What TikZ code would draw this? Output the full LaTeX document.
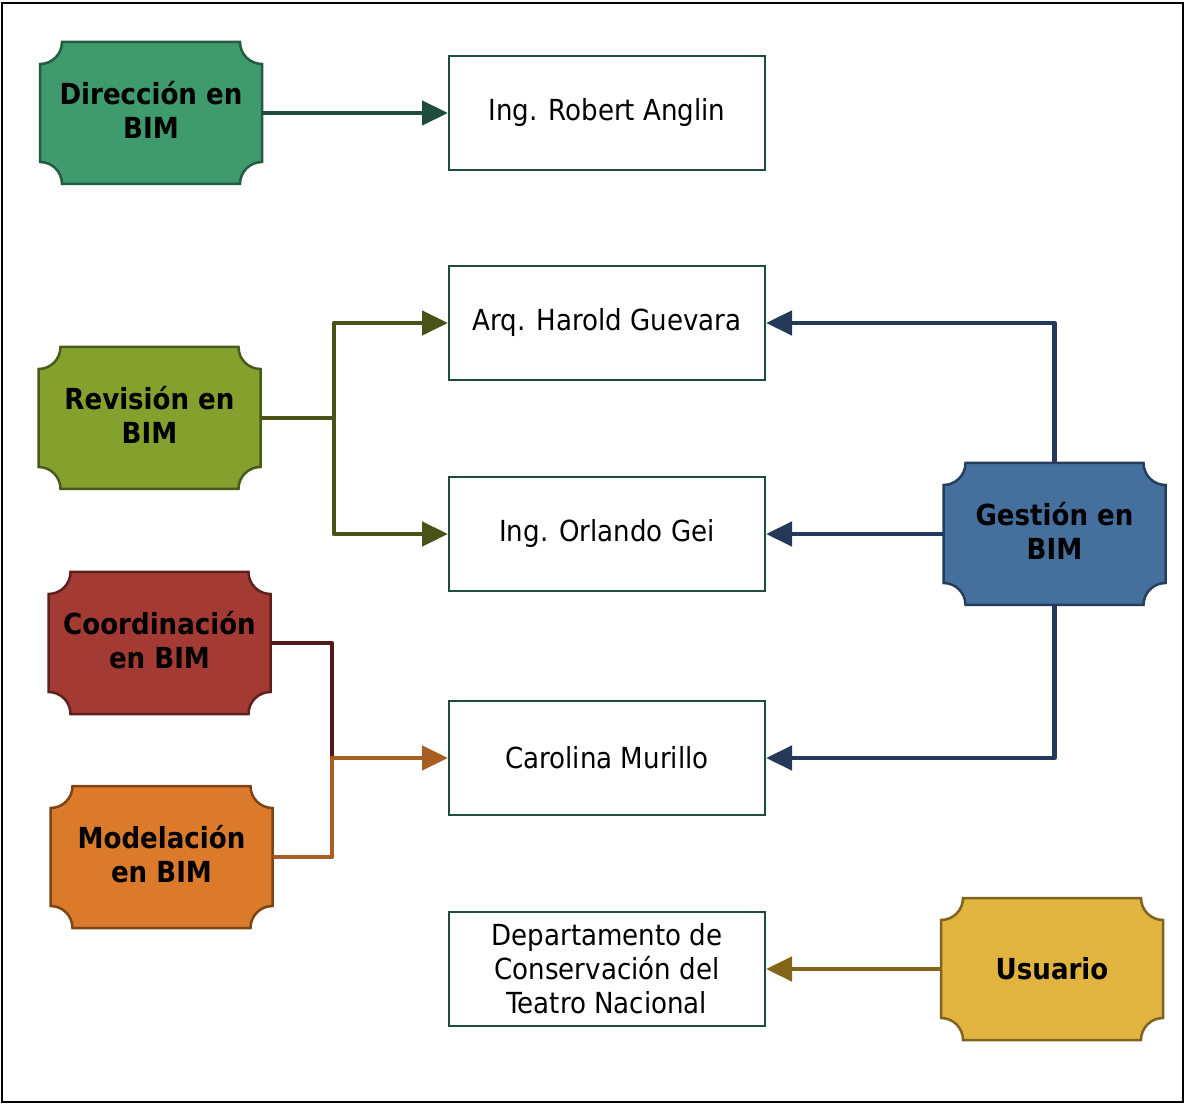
\documentclass[tikz,border=0pt]{standalone}
\usepackage{fontspec}
\setmainfont{DejaVu Sans Condensed}[BoldFont={DejaVu Sans Condensed Bold}]
\usetikzlibrary{arrows.meta,calc}
\definecolor{boxc}{HTML}{1E4D3C}
\definecolor{dirf}{HTML}{3F9A6E}\definecolor{dird}{HTML}{245C41}
\definecolor{revf}{HTML}{85A02D}\definecolor{revd}{HTML}{4A5A1C}
\definecolor{coof}{HTML}{A33B34}\definecolor{cood}{HTML}{5C211D}
\definecolor{modf}{HTML}{DC7A2B}\definecolor{modd}{HTML}{7B4414}
\definecolor{gesf}{HTML}{45709E}\definecolor{gesd}{HTML}{263E5E}
\definecolor{usuf}{HTML}{E0B43F}\definecolor{usud}{HTML}{7E6420}
\definecolor{dirl}{HTML}{1E4D3C}
\definecolor{revl}{HTML}{4A5218}
\definecolor{cool}{HTML}{511A19}
\definecolor{modl}{HTML}{A75E20}
\definecolor{gesl}{HTML}{233A58}
\definecolor{usul}{HTML}{836519}
\tikzset{
 plq/.style={minimum width=222pt,minimum height=142pt,inner sep=0pt},
 plqtext/.style={inner sep=0pt,align=center,font=\fontsize{29}{34}\selectfont\bfseries},
 wbox/.style={draw=boxc,line width=2pt,fill=white,minimum width=316pt,minimum height=114pt,inner sep=0pt,align=center,font=\fontsize{29}{34}\selectfont},
 ln/.style={line width=4.5pt,line join=round},
 conn/.style={ln,-{Triangle[length=26pt,width=24pt]}},
}
\newcommand\plaque[7]{%
 \filldraw[fill=#4,draw=#5,line width=2.5pt]
  (#2-111,#3+71-22) arc[start angle=270,end angle=360,radius=22]
  -- (#2+111-22,#3+71) arc[start angle=180,end angle=270,radius=22]
  -- (#2+111,#3-71+22) arc[start angle=90,end angle=180,radius=22]
  -- (#2-111+22,#3-71) arc[start angle=0,end angle=90,radius=22] -- cycle;
 \node[plq] (#1) at (#2,#3) {};
 \node[plqtext] (#1t) at (#2,#3+#7) {#6};}
\begin{document}
\begin{tikzpicture}[x=1pt,y=1pt]
\useasboundingbox (0,0) rectangle (1185,1104);
\fill[white] (0,0) rectangle (1185,1104);
\draw[black,line width=2pt] (2,1101) rectangle (1183,2);
% plaques
\plaque{dir}{151}{991}{dirf}{dird}{Dirección en\\BIM}{3}
\plaque{rev}{149.5}{686}{revf}{revd}{Revisión en\\BIM}{3}
\plaque{coo}{159.5}{461}{coof}{cood}{Coordinación\\en BIM}{3}
\plaque{mod}{161.5}{247}{modf}{modd}{Modelación\\en BIM}{3}
\plaque{ges}{1054.5}{570}{gesf}{gesd}{Gestión en\\BIM}{3}
\plaque{usu}{1052}{135}{usuf}{usud}{Usuario}{0}
% white boxes
\node[wbox] (rob) at (607,991) {Ing. Robert Anglin};
\node[wbox] (har) at (607,781) {Arq. Harold Guevara};
\node[wbox] (orl) at (607,570) {Ing. Orlando Gei};
\node[wbox] (car) at (607,346) {Carolina Murillo};
\node[wbox] (dep) at (607,135) {Departamento de\\Conservación del\\Teatro Nacional};
% connectors
\draw[conn,dirl] (dir.east) -- (rob.west);
\coordinate (rj) at (334,686);
\draw[ln,revl] (rev.east) -- (rj);
\draw[conn,revl] (rj) |- (har.west);
\draw[conn,revl] (rj) |- (orl.west);
\coordinate (cj) at (332,346);
\draw[ln,cool] (coo.east) -| (cj);
\draw[conn,modl] (mod.east) -| (cj) -- (car.west);
\draw[conn,gesl] (ges.north) |- (har.east);
\draw[conn,gesl] (ges.west) -- (orl.east);
\draw[conn,gesl] (ges.south) |- (car.east);
\draw[conn,usul] (usu.west) -- (dep.east);
\end{tikzpicture}
\end{document}
